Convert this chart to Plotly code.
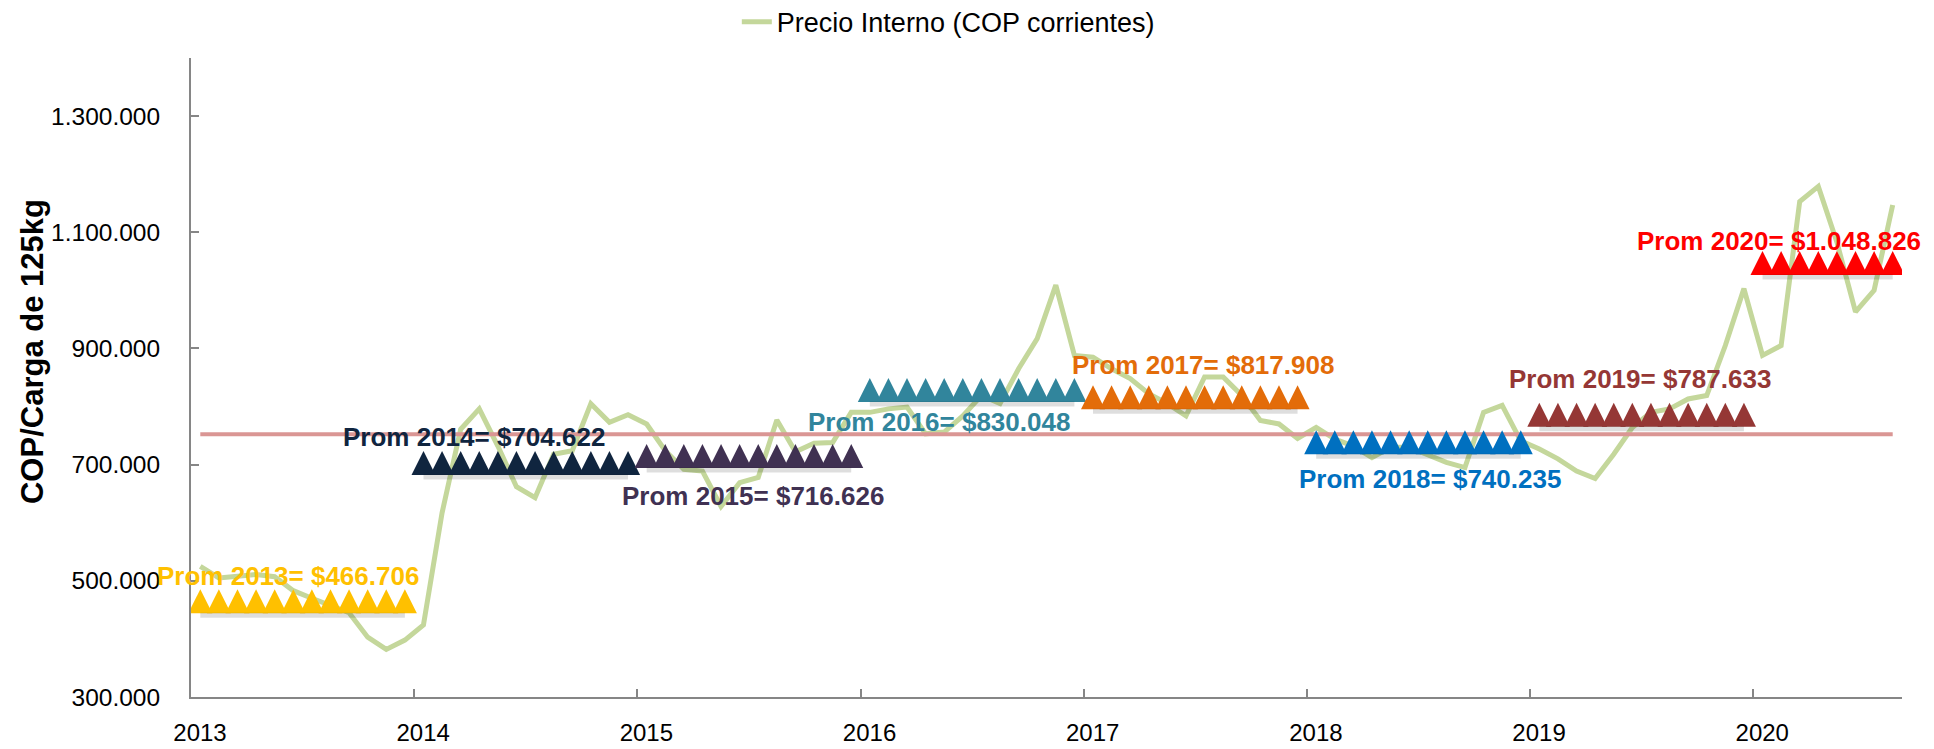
import numpy as np
import plotly.graph_objects as go

# Precio interno mensual, COP corrientes por carga de 125 kg (ene-2013 a ago-2020)
precio_2013 = [525000, 505000, 508000, 511000, 507000, 483000, 470000, 458000, 445000, 403000, 382000, 398000]
precio_2014 = [424000, 617000, 761000, 796000, 732000, 662000, 643000, 718000, 724000, 805000, 773000, 786000]
precio_2015 = [770000, 724000, 692000, 689000, 628000, 669000, 678000, 777000, 722000, 737000, 738000, 790000]
precio_2016 = [790000, 796000, 799000, 753000, 756000, 784000, 819000, 805000, 865000, 917000, 1009000, 888000]
precio_2017 = [885000, 865000, 848000, 822000, 805000, 784000, 851000, 851000, 819000, 776000, 770000, 745000]
precio_2018 = [764000, 744000, 732000, 712000, 730000, 730000, 718000, 704000, 695000, 790000, 802000, 741000]
precio_2019 = [727000, 710000, 689000, 676000, 718000, 764000, 790000, 796000, 813000, 819000, 905000, 1003000]
precio_2020 = [888000, 905000, 1153000, 1179000, 1083000, 963000, 1000000, 1147000]

anios = ["2013", "2014", "2015", "2016", "2017", "2018", "2019", "2020"]
promedios = [466706, 704622, 716626, 830048, 817908, 740235, 787633, 1048826]
promedio_general = 752500

series = [precio_2013, precio_2014, precio_2015, precio_2016,
          precio_2017, precio_2018, precio_2019, precio_2020]
precio_interno = sum(series, [])

colores = ["#FFC000", "#10253F", "#403152", "#31859C",
           "#E36C09", "#0070C0", "#953735", "#FF0000"]
# donde va cada etiqueta "Prom" (posicion en meses, valor)
pos_etiquetas = [(5.2, 509000), (15.2, 748000), (30.2, 646000), (40.2, 773000),
                 (54.4, 871000), (66.6, 675000), (77.9, 848000), (85.4, 1085000)]

FUENTE = "Liberation Sans, Arial, sans-serif"
GRIS = "#868686"

x_meses = np.arange(len(precio_interno)) + 0.5

fig = go.Figure()
fig.add_trace(go.Scatter(x=x_meses, y=precio_interno, mode="lines",
                         name="Precio Interno (COP corrientes)",
                         line=dict(color="#C4D79B", width=5)))
fig.add_trace(go.Scatter(x=x_meses, y=[promedio_general] * len(x_meses), mode="lines",
                         line=dict(color="#DA9694", width=4), showlegend=False,
                         name="Promedio"))

inicio = 0
for anio, serie, prom, color, (lx, ly) in zip(anios, series, promedios, colores, pos_etiquetas):
    n = len(serie)
    xs = x_meses[inicio:inicio + n]
    # sombra suave bajo la base de los triangulos
    fig.add_trace(go.Scatter(x=xs, y=[prom] * n, mode="lines",
                             line=dict(color="rgba(0,0,0,0.13)", width=5),
                             yaxis="y3", showlegend=False, hoverinfo="skip"))
    fig.add_trace(go.Scatter(x=xs, y=[prom] * n, mode="markers",
                             marker=dict(symbol="arrow-up", size=24, color=color, opacity=1,
                                         line=dict(width=0)),
                             yaxis="y2", showlegend=False, name="Prom " + anio))
    texto = "Prom %s= $%s" % (anio, f"{prom:,}".replace(",", "."))
    fig.add_annotation(x=lx, y=ly, text=texto, showarrow=False,
                       font=dict(family=FUENTE, size=26, color=color, weight="bold"))
    inicio += n

fig.add_annotation(xref="paper", yref="paper", x=-0.0925, y=0.541, text="<b>COP/Carga de 125kg</b>",
                   textangle=-90, showarrow=False, xanchor="center", yanchor="middle",
                   font=dict(family=FUENTE, size=31, color="black"))

fig.update_layout(
    width=1926, height=741,
    margin=dict(l=183, r=32, t=50, b=52, autoexpand=False),
    plot_bgcolor="white", paper_bgcolor="white",
    separators=",.",
    showlegend=True,
    legend=dict(x=0.319, y=1.056, xanchor="left", yanchor="middle",
                font=dict(family=FUENTE, size=27, color="black"), bgcolor="rgba(0,0,0,0)"),
    xaxis=dict(range=[0, len(precio_interno)], tickvals=list(range(0, len(precio_interno), 12)),
               ticktext=anios, ticks="inside", ticklen=8, tickcolor=GRIS, tickwidth=2,
               showline=True, linecolor=GRIS, linewidth=2, showgrid=False, zeroline=False,
               ticklabelshift=9, ticklabelstandoff=13, automargin=False,
               tickfont=dict(family=FUENTE, size=24, color="black")),
    yaxis=dict(range=[300000, 1400000], tickvals=list(range(300000, 1400001, 200000)),
               tickformat=",d", ticks="inside", ticklen=8, tickcolor=GRIS, tickwidth=2,
               showline=True, linecolor=GRIS, linewidth=2, showgrid=False, zeroline=False,
               ticklabelstandoff=24, automargin=False,
               tickfont=dict(family=FUENTE, size=24.5, color="black")),
    yaxis2=dict(overlaying="y", range=[281100, 1381100], visible=False),
    yaxis3=dict(overlaying="y", range=[325800, 1425800], visible=False),
)

fig.write_html("out.html")
